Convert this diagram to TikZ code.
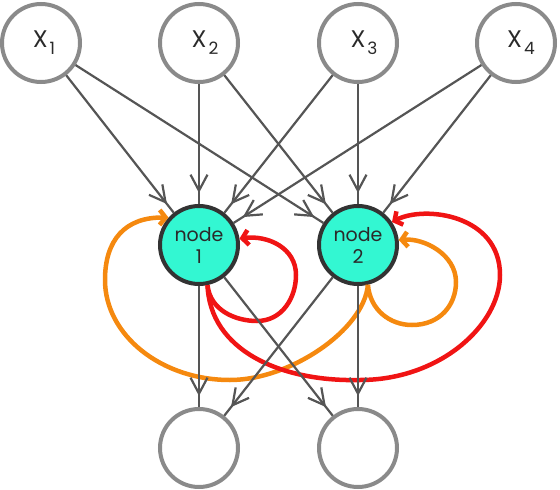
\documentclass[tikz,border=0pt]{standalone}
\usepackage{fontspec}
\setmainfont{Poppins}
\usetikzlibrary{arrows.meta,decorations.markings}
\definecolor{ringgray}{HTML}{8A8A8A}
\definecolor{edgegray}{HTML}{555555}
\definecolor{hidborder}{HTML}{333333}
\definecolor{turq}{HTML}{33F7D2}
\definecolor{loopred}{HTML}{F01414}
\definecolor{looporange}{HTML}{F5890F}
\definecolor{txtgray}{HTML}{2A2A2A}
\tikzset{
  io/.style={circle, draw=ringgray, line width=4pt, fill=white, minimum size=78pt, inner sep=0pt, text=txtgray},
  hid/.style={circle, draw=hidborder, line width=4pt, fill=turq, minimum size=78pt, inner sep=0pt, text=txtgray, align=center, font=\fontsize{19}{22}\selectfont},
  conn/.style={draw=edgegray, line width=2.2pt, postaction={decorate},
    decoration={markings, mark=at position -11pt with {\arrow[edgegray, line width=2.2pt]{Straight Barb[length=16pt,width=17pt]}}}},
  redloop/.style={draw=loopred, line width=4.5pt, -{Straight Barb[length=6pt,width=15pt]}},
  orangeloop/.style={draw=looporange, line width=4.5pt, -{Straight Barb[length=6pt,width=15pt]}},
}
\newcommand{\xlab}[1]{\fontsize{24}{24}\selectfont X\hspace{2pt}\raisebox{-7pt}{\fontsize{17}{17}\selectfont #1}}
\begin{document}
\begin{tikzpicture}[x=1pt,y=-1pt]
\useasboundingbox (0,0) rectangle (560,490);
% nodes
\node[io] (x1) at (41,43) {\hspace{6pt}\xlab{1}};
\node[io] (x2) at (199,43) {\hspace{12pt}\xlab{2}};
\node[io] (x3) at (358,43) {\hspace{12pt}\xlab{3}};
\node[io] (x4) at (516,43) {\hspace{10pt}\xlab{4}};
\node[hid] (h1) at (199,245) {node\\1};
\node[hid] (h2) at (358,245) {node\\2};
\node[io] (o1) at (199,448) {};
\node[io] (o2) at (358,448) {};
% coloured loops
\draw[orangeloop] (h2.-76) .. controls (364,330) and (290,380) .. (230,380)
   .. controls (161,380) and (105,335) .. (105,280)
   .. controls (105,240) and (125,217) .. (h1.138);
\draw[orangeloop] (h2.-76) .. controls (370,310) and (390,325) .. (412,325)
   .. controls (440,325) and (456,305) .. (456,282)
   .. controls (456,255) and (425,238) .. (h2.7);
\draw[redloop] (h1.-78) .. controls (210,310) and (235,321) .. (257,321)
   .. controls (282,321) and (296,298) .. (296,275)
   .. controls (296,248) and (268,235) .. (h1.9);
\draw[redloop] (h1.-78) .. controls (210,350) and (280,382) .. (360,380)
   .. controls (440,380) and (500,325) .. (500,275)
   .. controls (500,215) and (425,205) .. (h2.34);
% gray connectors
\foreach \s in {x1,x2,x3,x4}{
  \path[conn] (\s) -- (h1);
  \path[conn] (\s) -- (h2);
}
\foreach \s in {h1,h2}{
  \path[conn] (\s) -- (o1);
  \path[conn] (\s) -- (o2);
}
\end{tikzpicture}
\end{document}
